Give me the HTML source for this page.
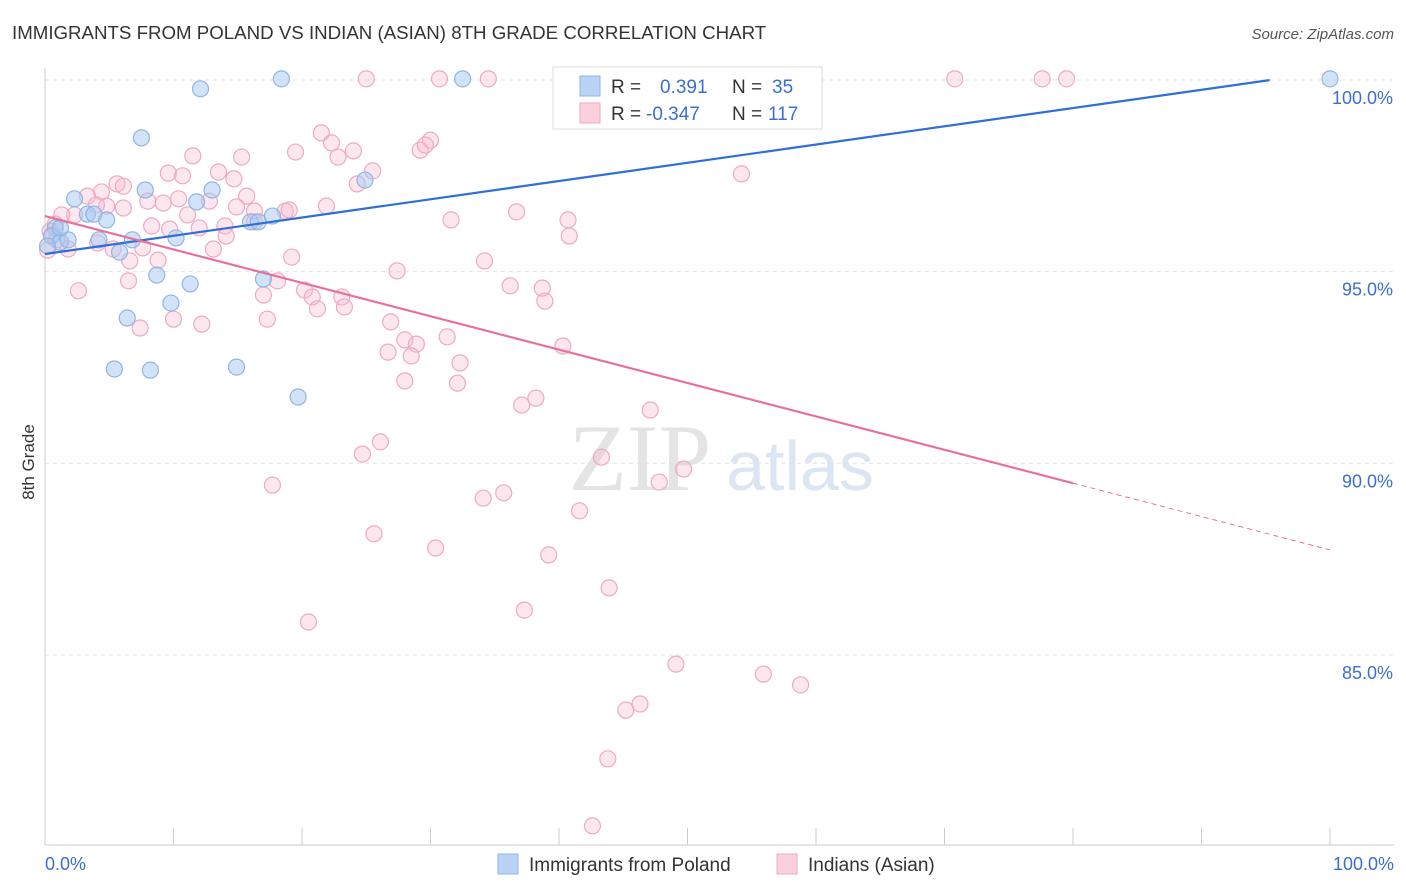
<!DOCTYPE html>
<html><head><meta charset="utf-8">
<style>
body{margin:0;background:#fff;font-family:"Liberation Sans",sans-serif;}
#wrap{position:relative;width:1406px;height:892px;overflow:hidden;}
</style></head>
<body>
<div id="wrap">
<svg id="chart" width="1406" height="892" xmlns="http://www.w3.org/2000/svg">
<text x="12" y="39" font-size="18.7" fill="#333">IMMIGRANTS FROM POLAND VS INDIAN (ASIAN) 8TH GRADE CORRELATION CHART</text>
<text x="1394" y="39" font-size="15" fill="#555" font-style="italic" text-anchor="end">Source: ZipAtlas.com</text>
<text x="34" y="462" font-size="17" fill="#333" text-anchor="middle" transform="rotate(-90 34 462)">8th Grade</text>
<text x="640" y="490" font-size="95" fill="#e4e4e4" font-family="Liberation Serif,serif" text-anchor="middle">ZIP</text>
<text x="800" y="490" font-size="70" fill="#dce6f3" text-anchor="middle">atlas</text>
<g id="grid"></g><g id="axes"></g><g id="pts"></g><g id="lines"></g>
<g>
<rect x="553" y="67" width="269" height="62" fill="#fff" stroke="#ddd"/>
<rect x="580" y="76" width="20" height="20" fill="#b9d3f5" stroke="#8fb5e8"/>
<text x="611" y="93" font-size="19" fill="#333">R = </text><text x="660" y="93" font-size="19" fill="#3a6fd0">0.391</text>
<text x="732" y="93" font-size="19" fill="#333">N = </text><text x="772" y="93" font-size="19" fill="#3a6fd0">35</text>
<rect x="580" y="103" width="20" height="20" fill="#fbd0dd" stroke="#eeaac0"/>
<text x="611" y="120" font-size="19" fill="#333">R = </text><text x="646" y="120" font-size="19" fill="#3a6fd0">-0.347</text>
<text x="732" y="120" font-size="19" fill="#333">N = </text><text x="768" y="120" font-size="19" fill="#3a6fd0">117</text>
</g>
<g>
<rect x="498" y="854" width="20" height="20" fill="#b9d3f5" stroke="#8fb5e8"/>
<text x="529" y="871" font-size="19" fill="#333">Immigrants from Poland</text>
<rect x="777" y="854" width="20" height="20" fill="#fbd0dd" stroke="#eeaac0"/>
<text x="808" y="871" font-size="19" fill="#333">Indians (Asian)</text>
</g>
</svg>
</div>
<script>
const yTicks=[100,95,90,85];
const yTickLabels=["100.0%","95.0%","90.0%","85.0%"];
const xTickVals=[0,10,20,30,40,50,60,70,80,90,100];
const bluePx=[[201,89],[281,79],[462,79],[1330,79],[141,138],[74,199],[145,190],[212,190],[365,180],[196,202],[88,214],[94,214],[107,220],[55,228],[52,236],[60,242],[68,240],[99,240],[133,240],[176,238],[120,252],[250,222],[258,222],[272,216],[157,275],[190,284],[264,279],[171,303],[127,318],[114,369],[151,370],[236,367],[298,397],[60,228],[48,246]];
const pinkPx=[[366,79],[440,79],[488,79],[634,79],[647,79],[955,79],[1042,79],[1066,79],[321,133],[331,143],[353,151],[338,157],[296,152],[430,140],[420,150],[425,145],[193,156],[241,157],[373,171],[357,184],[168,173],[182,176],[218,172],[234,179],[117,184],[123,186],[102,192],[88,196],[148,201],[163,203],[178,199],[209,201],[247,196],[107,206],[124,208],[96,205],[75,215],[62,215],[55,224],[50,231],[47,250],[188,215],[237,207],[254,211],[285,211],[289,210],[327,206],[516,212],[568,220],[451,220],[225,226],[199,228],[255,222],[152,226],[170,229],[53,235],[57,240],[68,249],[98,243],[113,249],[143,248],[213,249],[226,236],[130,261],[158,260],[292,257],[397,271],[485,261],[741,174],[569,236],[128,281],[78,291],[278,281],[304,290],[312,297],[264,295],[342,297],[345,307],[318,309],[510,286],[542,288],[545,301],[174,319],[140,328],[202,324],[267,319],[391,322],[447,337],[405,340],[417,344],[388,352],[411,356],[460,363],[563,346],[405,381],[458,383],[522,405],[536,398],[650,410],[380,442],[362,454],[601,457],[272,485],[684,469],[659,482],[504,493],[483,498],[579,511],[374,534],[436,548],[549,555],[609,588],[524,610],[309,622],[676,664],[763,674],[800,685],[640,704],[626,710],[608,759],[593,826]];
const blueX=bluePx.map(p=>+((p[0]-45)/12.85).toFixed(1));
const blueY=bluePx.map(p=>+(100-(p[1]-80)/38.33).toFixed(2));
const pinkX=pinkPx.map(p=>+((p[0]-45)/12.85).toFixed(1));
const pinkY=pinkPx.map(p=>+(100-(p[1]-80)/38.33).toFixed(2));
const blueTrend=[95.46,100.22];
const pinkTrend=[96.45,87.74];
const NS="http://www.w3.org/2000/svg";
const sx=v=>45+v*12.85, sy=v=>80+(100-v)*38.33;
function mk(t,a,p){const e=document.createElementNS(NS,t);for(const k in a)e.setAttribute(k,a[k]);p.appendChild(e);return e;}
const grid=document.getElementById('grid'),axes=document.getElementById('axes'),pts=document.getElementById('pts'),lines=document.getElementById('lines');
yTicks.forEach((v,i)=>{
 const l=mk('line',{x1:45,x2:1394,y1:sy(v),y2:sy(v),stroke:'#e2e2e2','stroke-dasharray':'4,4'},grid);
 
 
 const t=mk('text',{x:1393,y:sy(v)+24,'font-size':18,fill:'#3a6fd0','text-anchor':'end'},axes);t.textContent=yTickLabels[i];
 
 
});
mk('line',{x1:45,x2:45,y1:68,y2:845,stroke:'#ccc'},axes);
mk('line',{x1:45,x2:1394,y1:845,y2:845,stroke:'#ccc'},axes);
xTickVals.forEach(v=>{const l=mk('line',{x1:sx(v),x2:sx(v),y1:828,y2:845,stroke:'#ccc'},axes);
 
 });
let t=mk('text',{x:45,y:870,'font-size':18,fill:'#3a6fd0'},axes);t.textContent='0.0%';


t=mk('text',{x:1394,y:870,'font-size':18,fill:'#3a6fd0','text-anchor':'end'},axes);t.textContent='100.0%';


pinkX.forEach((x,i)=>{const c=mk('circle',{cx:sx(x),cy:sy(pinkY[i]),r:8,fill:'rgba(248,185,205,0.35)',stroke:'#eeaac0','stroke-width':1.2},pts);
 
 });
blueX.forEach((x,i)=>{const c=mk('circle',{cx:sx(x),cy:sy(blueY[i]),r:8,fill:'rgba(165,200,240,0.5)',stroke:'#8fb5e8','stroke-width':1.2},pts);
 
 });
const bl=mk('line',{x1:sx(0),y1:sy(blueTrend[0]),x2:sx(95.3),y2:sy(blueTrend[0]+(blueTrend[1]-blueTrend[0])*0.953),stroke:'#2f6fd6','stroke-width':2.2},lines);


const f=80;
const pl=mk('line',{x1:sx(0),y1:sy(pinkTrend[0]),x2:sx(f),y2:sy(pinkTrend[0]+(pinkTrend[1]-pinkTrend[0])*f/100),stroke:'#e8719b','stroke-width':2.2},lines);


const pd=mk('line',{x1:sx(f),y1:sy(pinkTrend[0]+(pinkTrend[1]-pinkTrend[0])*f/100),x2:sx(100),y2:sy(pinkTrend[1]),stroke:'#e8719b','stroke-width':1,'stroke-dasharray':'5,4'},lines);


</script>
</body></html>
